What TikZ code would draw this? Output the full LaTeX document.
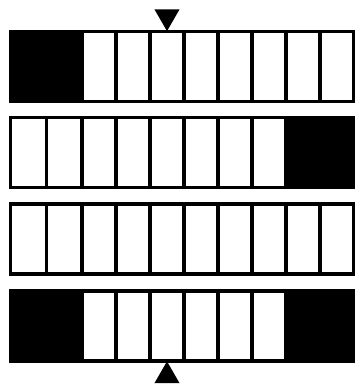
\documentclass[tikz,border=0pt]{standalone}
\usetikzlibrary{shapes.geometric}
\begin{document}
\begin{tikzpicture}[
                x=1pt, y=-1pt,
                cell/.style={draw, line width=3.2pt, minimum width=34pt, minimum height=70pt, inner sep=0pt, outer sep=0pt},
                wide/.style={cell, minimum width=35.75pt},
                dark/.style={cell, fill=black, minimum width=#1},
                marker/.style={regular polygon, regular polygon sides=3, fill=black, inner sep=0pt, minimum size=29pt}
            ]
                \useasboundingbox[fill=white] (0,0) rectangle (355,386);
                % four rows of ten cells
                \foreach \r/\y in {1/66.5, 2/152.5, 3/239, 4/326}{
                    \foreach \c in {0,1}
                        \node [wide, anchor=west] (r\r c\c) at ({10.5+35.75*\c}, \y) {};
                    \foreach \c in {2,...,9}
                        \node [cell, anchor=west] (r\r c\c) at ({82+34*(\c-2)}, \y) {};
                }
                % dark pairs
                \node [dark=71.5pt, anchor=west] (r1left) at (r1c0.west) {};
                \node [dark=68pt, anchor=west] (r2right) at (r2c8.west) {};
                \node [dark=71.5pt, anchor=west] (r4left) at (r4c0.west) {};
                \node [dark=68pt, anchor=west] (r4right) at (r4c8.west) {};
                % pointers
                \node [marker, shape border rotate=180, anchor=corner 1] (top) at (r1c4.north) {};
                \node [marker, anchor=corner 1] (bottom) at (r4c4.south) {};
            \end{tikzpicture}
\end{document}
